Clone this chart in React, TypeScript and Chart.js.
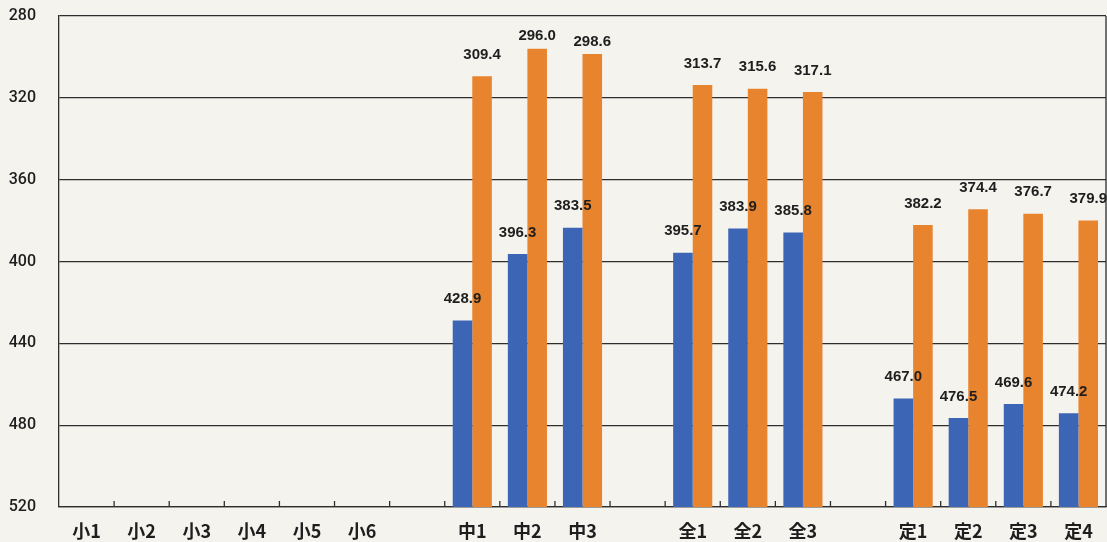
import React, { useEffect, useRef } from "react";
import { Chart, registerables } from "chart.js";

Chart.register(...registerables);

const CATEGORIES = [
  "小1", "小2", "小3", "小4", "小5", "小6", "",
  "中1", "中2", "中3", "",
  "全1", "全2", "全3", "",
  "定1", "定2", "定3", "定4",
];

const BLUE_VALUES: (number | null)[] = [
  null, null, null, null, null, null, null,
  428.9, 396.3, 383.5, null,
  395.7, 383.9, 385.8, null,
  467.0, 476.5, 469.6, 474.2,
];

const ORANGE_VALUES: (number | null)[] = [
  null, null, null, null, null, null, null,
  309.4, 296.0, 298.6, null,
  313.7, 315.6, 317.1, null,
  382.2, 374.4, 376.7, 379.9,
];

const Y_MIN = 280;
const Y_MAX = 520;
const Y_STEP = 40;

const BLUE = "#3d65b6";
const ORANGE = "#e8842e";
const PAPER = "#f4f3ee";
const INK = "#1e1e1e";
const LINE = "#2e2e2e";

const toBars = (vals: (number | null)[]) =>
  vals.map((v) => (v == null ? null : [Y_MAX, v]));

const paperPlugin = {
  id: "paper",
  beforeDraw(chart: any) {
    const { ctx, width, height } = chart;
    ctx.save();
    ctx.fillStyle = PAPER;
    ctx.fillRect(0, 0, width, height);
    ctx.restore();
  },
};

const framePlugin = {
  id: "frame",
  afterDatasetsDraw(chart: any) {
    const { ctx, chartArea, scales } = chart;
    const x = scales.x;
    ctx.save();
    ctx.strokeStyle = LINE;
    ctx.lineWidth = 1.3;
    ctx.beginPath();
    ctx.moveTo(chartArea.right, chartArea.top);
    ctx.lineTo(chartArea.right, chartArea.bottom);
    ctx.stroke();
    const n = CATEGORIES.length;
    for (let i = 1; i < n; i++) {
      const px = (x.getPixelForValue(i - 1) + x.getPixelForValue(i)) / 2;
      ctx.beginPath();
      ctx.moveTo(px, chartArea.bottom);
      ctx.lineTo(px, chartArea.bottom - 6);
      ctx.stroke();
    }
    ctx.restore();
  },
};

const labelPlugin = {
  id: "valueLabels",
  afterDatasetsDraw(chart: any) {
    const { ctx, scales } = chart;
    const y = scales.y;
    ctx.save();
    ctx.font = "bold 15px 'Liberation Sans', Arial, sans-serif";
    ctx.fillStyle = INK;
    ctx.textAlign = "center";
    ctx.textBaseline = "bottom";
    chart.data.datasets.forEach((ds: any, di: number) => {
      const meta = chart.getDatasetMeta(di);
      const src = di === 0 ? BLUE_VALUES : ORANGE_VALUES;
      meta.data.forEach((el: any, i: number) => {
        const v = src[i];
        if (v == null) return;
        const top = y.getPixelForValue(v);
        let bottom = top - 14;
        if (bottom < 45) bottom = top - 5;
        ctx.fillText(v.toFixed(1), el.x, bottom);
      });
    });
    ctx.restore();
  },
};

export default function App() {
  const ref = useRef<HTMLCanvasElement | null>(null);

  useEffect(() => {
    if (!ref.current) return;
    const chart = new Chart(ref.current, {
      type: "bar",
      data: {
        labels: CATEGORIES,
        datasets: [
          {
            label: "blue",
            data: toBars(BLUE_VALUES) as any,
            backgroundColor: BLUE,
            borderWidth: 0,
            categoryPercentage: 0.71,
            barPercentage: 1.0,
          },
          {
            label: "orange",
            data: toBars(ORANGE_VALUES) as any,
            backgroundColor: ORANGE,
            borderWidth: 0,
            categoryPercentage: 0.71,
            barPercentage: 1.0,
          },
        ],
      },
      options: {
        responsive: false,
        maintainAspectRatio: false,
        animation: false,
        layout: { padding: { top: 16, right: 1, left: 0, bottom: 0 } },
        plugins: {
          legend: { display: false },
          title: { display: false },
          tooltip: { enabled: false },
        },
        scales: {
          x: {
            offset: true,
            grid: { display: false, drawTicks: false },
            border: { display: true, color: LINE, width: 1.3 },
            ticks: {
              color: INK,
              padding: 13,
              autoSkip: false,
              maxRotation: 0,
              font: { family: "'Noto Sans CJK JP', sans-serif", size: 18, weight: "bold" as any },
            },
            afterFit(scale: any) {
              scale.height = 35;
            },
          },
          y: {
            reverse: true,
            min: Y_MIN,
            max: Y_MAX,
            ticks: {
              stepSize: Y_STEP,
              color: INK,
              padding: 23,
              font: { family: "Roboto, 'Liberation Sans', sans-serif", size: 16, weight: "500" as any },
            },
            grid: { color: LINE, lineWidth: 1.3, drawTicks: false },
            border: { display: true, color: LINE, width: 1.3 },
            afterFit(scale: any) {
              scale.width = 59;
              scale.paddingTop = 0;
              scale.paddingBottom = 0;
            },
          },
        },
      },
      plugins: [paperPlugin, framePlugin, labelPlugin],
    });
    return () => chart.destroy();
  }, []);

  return (
    <div style={{ position: "fixed", left: 0, top: 0, width: 1107, height: 542, background: PAPER }}>
      <canvas ref={ref} width={1107} height={542} style={{ display: "block" }} />
    </div>
  );
}
